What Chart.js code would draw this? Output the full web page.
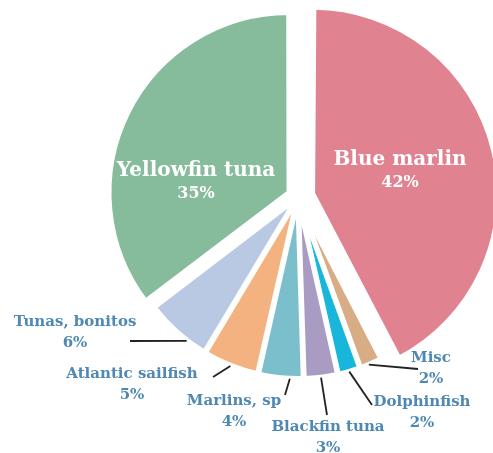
<!DOCTYPE html>
<html>
<head>
<meta charset="utf-8">
<script src="https://cdn.jsdelivr.net/npm/chart.js@4.4.1/dist/chart.umd.min.js"></script>
<style>
  html, body { margin: 0; padding: 0; background: #ffffff; }
  #chartBox { position: relative; width: 493px; height: 453px; }
</style>
</head>
<body>
<div id="chartBox"><canvas id="catchPie"></canvas></div>
<script>
// Catch composition, percent of total
const species = ['Blue marlin', 'Misc', 'Dolphinfish', 'Blackfin tuna', 'Marlins, sp', 'Atlantic sailfish', 'Tunas, bonitos', 'Yellowfin tuna'];
const shares = [42, 2, 2, 3, 4, 5, 6, 35];
const sliceColors = ['#e0828f', '#d8ad86', '#19b6dc', '#aa9bc3', '#7bbfcd', '#f3b27f', '#b9c9e3', '#86bb9c'];

// how far each slice is pulled out of the pie
const sliceOffsets = [60, 8, 8, 8, 8, 8, 8, 40];

// label placement relative to the pie centre: text (tx, ty), leader end (lx, ly),
// and where along the slice edge the leader starts (0 = start angle, 1 = end angle)
const placement = [
  { inside: true, tx: 102, ty: -37, py: 23 },
  { tx: 133, ty: 161, lx: 120, ly: 172, at: 0.6 },
  { tx: 124, ty: 205, lx: 74, ly: 208, at: 0.5 },
  { tx: 30, ty: 230, lx: 29, ly: 218, at: 0.5 },
  { tx: -64, ty: 204, lx: -13, ly: 198, at: 0.3 },
  { tx: -166, ty: 177, lx: -85, ly: 180, at: 0.5 },
  { tx: -223, ty: 125, lx: -168, ly: 144, at: 0.31 },
  { inside: true, tx: -102, ty: -26, py: 23 }
];

const serif = "'DejaVu Serif', 'Liberation Serif', serif";

const calloutLabels = {
  id: 'calloutLabels',
  afterDatasetsDraw(chart) {
    const ctx = chart.ctx;
    const arcs = chart.getDatasetMeta(0).data;
    ctx.save();
    ctx.textAlign = 'center';
    ctx.textBaseline = 'middle';
    arcs.forEach((arc, i) => {
      const p = placement[i];
      const { x, y, startAngle, endAngle, outerRadius } = arc.getProps(['x', 'y', 'startAngle', 'endAngle', 'outerRadius'], true);
      const pct = shares[i] + '%';
      if (p.inside) {
        ctx.fillStyle = '#ffffff';
        ctx.font = 'bold 20px ' + serif;
        ctx.fillText(species[i], x + p.tx, y + p.ty);
        ctx.font = 'bold 16px ' + serif;
        ctx.fillText(pct, x + p.tx, y + p.ty + p.py);
        return;
      }
      // leader from the slice rim to the label
      const mid = (startAngle + endAngle) / 2;
      const shift = arc.options.offset / 4;
      const a = startAngle + (endAngle - startAngle) * p.at;
      const sx = x + Math.cos(mid) * shift + Math.cos(a) * (outerRadius + 2);
      const sy = y + Math.sin(mid) * shift + Math.sin(a) * (outerRadius + 2);
      ctx.strokeStyle = '#222222';
      ctx.lineWidth = 1.8;
      ctx.beginPath();
      ctx.moveTo(sx, sy);
      ctx.lineTo(x + p.lx, y + p.ly);
      ctx.stroke();

      ctx.fillStyle = '#4f88b3';
      ctx.font = 'bold 15px ' + serif;
      ctx.fillText(species[i], x + p.tx, y + p.ty);
      ctx.fillText(pct, x + p.tx, y + p.ty + 21);
    });
    ctx.restore();
  }
};

const pieChart = new Chart(document.getElementById('catchPie'), {
  type: 'pie',
  data: {
    labels: species,
    datasets: [{
      data: shares,
      backgroundColor: sliceColors,
      borderColor: '#ffffff',
      borderWidth: 5,
      offset: sliceOffsets
    }]
  },
  options: {
    responsive: true,
    maintainAspectRatio: false,
    animation: false,
    radius: 178,
    layout: { padding: { left: 103, right: 0, top: 0, bottom: 59 } },
    plugins: {
      legend: { display: false },
      tooltip: { enabled: false }
    }
  },
  plugins: [calloutLabels]
});
</script>
</body>
</html>
